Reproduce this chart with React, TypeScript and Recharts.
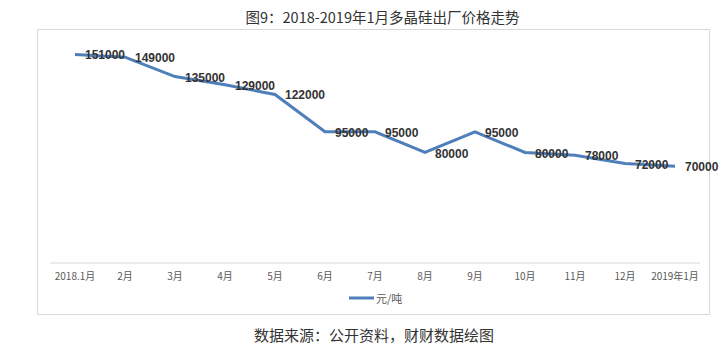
import React from "react";
import { LineChart, Line, XAxis, YAxis, LabelList } from "recharts";

const categories = ["2018.1月", "2月", "3月", "4月", "5月", "6月", "7月", "8月", "9月", "10月", "11月", "12月", "2019年1月"];
const prices = [151000, 149000, 135000, 129000, 122000, 95000, 95000, 80000, 95000, 80000, 78000, 72000, 70000];
const seriesName = "元/吨";
const titleText = "图9：2018-2019年1月多晶硅出厂价格走势";
const sourceText = "数据来源：公开资料，财财数据绘图";

const data = categories.map((c, i) => ({ month: c, value: prices[i] }));

const cjk = '"Noto Sans CJK SC", "Noto Sans", sans-serif';
const lineColor = "#4f7fba";

const renderLabel = (props: any) => {
  const { x, y, value } = props;
  return (
    <text x={x + 10} y={y + 5} textAnchor="start" fontSize={12} fontWeight="bold" fill="#333" fontFamily='"Liberation Sans", Arial, sans-serif'>
      {value}
    </text>
  );
};

export default function App() {
  return (
    <div style={{ position: "absolute", left: 0, top: 0, width: 723, height: 352, background: "#fff" }}>
      <div style={{ position: "absolute", left: 0, width: 765, top: 6, textAlign: "center", fontFamily: cjk, fontSize: 14.5, color: "#333", lineHeight: "22px" }}>
        {titleText}
      </div>
      <div style={{ position: "absolute", left: 37, top: 29, width: 671, height: 284, border: "1px solid #d9d9d9" }} />
      <div style={{ position: "absolute", left: 0, top: 0 }}>
        <LineChart width={723} height={352} data={data} margin={{ top: 42, right: 23, bottom: 59, left: 50 }}>
          <XAxis
            dataKey="month"
            height={30}
            padding={{ left: 25, right: 25 }}
            tickLine={false}
            axisLine={{ stroke: "#d9d9d9" }}
            tick={{ fontSize: 10, fill: "#595959", fontFamily: cjk }}
            tickMargin={4}
            interval={0}
          />
          <YAxis hide domain={[0, 160000]} />
          <Line
            type="linear"
            dataKey="value"
            name={seriesName}
            stroke={lineColor}
            strokeWidth={3}
            dot={false}
            isAnimationActive={false}
          >
            <LabelList dataKey="value" content={renderLabel} />
          </Line>
        </LineChart>
      </div>
      <div style={{ position: "absolute", left: 349, top: 290, height: 16, display: "flex", alignItems: "center", fontFamily: cjk, fontSize: 11, color: "#595959" }}>
        <svg width={26} height={6} style={{ marginRight: 1 }}>
          <line x1={0} y1={3} x2={25} y2={3} stroke={lineColor} strokeWidth={3} />
        </svg>
        <span>{seriesName}</span>
      </div>
      <div style={{ position: "absolute", left: 0, width: 748, top: 325, textAlign: "center", fontFamily: cjk, fontSize: 15, color: "#333", lineHeight: "20px" }}>
        {sourceText}
      </div>
    </div>
  );
}
